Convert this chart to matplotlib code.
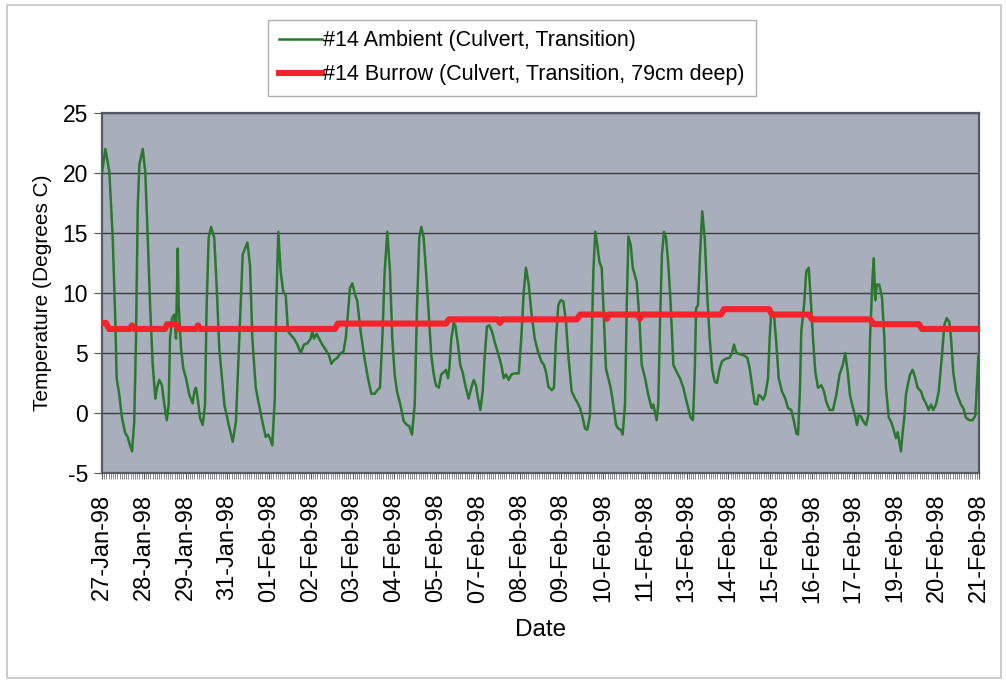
import matplotlib
matplotlib.use("Agg")
import matplotlib.pyplot as plt
from matplotlib.patches import Rectangle

plt.rcParams['font.family'] = ['Liberation Sans', 'DejaVu Sans']
plt.rcParams['axes.unicode_minus'] = False

# hours since first reading (one reading every 1.5 h, one label every 19 readings)
ambient_hours = [
    0, 2.3, 5.0, 7.3, 9.1, 10.0, 11.8, 13.6, 15.9, 17.5, 18.6, 20.5, 22.0, 23.2, 24.4,
    25.5, 27.8, 29.5, 31.2, 32.8, 34.6, 36.4, 37.5, 39.1, 40.9, 42.5, 44.2, 45.5, 46.4,
    47.8, 49.3, 50.5, 51.7, 52.3, 53.9, 55.5, 57.3, 59.6, 61.9, 63.0, 64.1, 65.3, 66.9,
    68.7, 70.3, 71.4, 72.8, 74.4, 76.6, 78.3, 80.0, 83.5, 86.5, 89.2, 91.4, 93.7, 96.0,
    99.2, 101.0, 102.6, 104.9, 107.1, 109.4, 111.7, 113.3, 114.6, 116.2, 117.9, 118.9,
    120.3, 121.9, 123.7, 125.4, 126.9, 128.8, 131.0, 133.3, 135.6, 137.8, 140.1, 142.4,
    143.5, 144.7, 146.5, 148.1, 150.3, 152.7, 154.9, 156.5, 158.3, 160.6, 162.9, 164.7,
    166.3, 167.9, 169.2, 170.8, 172.4, 174.2, 176.5, 178.8, 181.5, 183.8, 186.1, 187.9,
    189.7, 191.3, 192.9, 194.7, 196.5, 198.1, 199.7, 201.3, 203.6, 205.9, 208.1, 209.7,
    211.5, 213.4, 215.0, 216.5, 217.9, 219.5, 221.1, 222.9, 224.7, 226.4, 227.9, 229.8,
    231.5, 233.2, 234.7, 236.1, 237.0, 238.4, 240.0, 241.1, 242.9, 244.5, 246.1, 247.9,
    250.2, 252.0, 253.7, 255.2, 256.6, 258.2, 259.8, 261.2, 262.7, 264.3, 266.1, 268.0,
    270.2, 272.5, 274.1, 275.7, 277.5, 279.3, 281.6, 284.4, 286.1, 287.8, 289.3, 291.2,
    293.0, 295.3, 297.5, 299.8, 301.6, 303.0, 304.6, 306.9, 308.4, 309.8, 311.4, 313.0,
    314.8, 316.6, 318.2, 320.5, 322.8, 324.3, 326.2, 328.0, 329.6, 331.2, 333.0, 334.2,
    335.3, 336.6, 338.0, 339.4, 341.0, 342.1, 343.9, 345.5, 347.1, 348.9, 350.8, 352.3,
    354.0, 355.3, 356.9, 358.1, 359.2, 360.8, 362.2, 364.9, 366.7, 368.3, 370.6, 372.8,
    375.1, 376.2, 378.5, 379.6, 380.8, 382.1, 383.5, 384.9, 386.5, 388.1, 389.9, 392.2,
    394.4, 396.7, 399.0, 401.7, 403.3, 404.5, 405.4, 406.7, 408.1, 409.6, 411.3, 413.1,
    414.7, 416.3, 418.1, 419.7, 421.5, 423.1, 425.3, 428.3, 429.9, 431.3, 432.9, 435.2,
    438.1, 440.4, 442.0, 443.6, 445.4, 447.0, 448.1, 449.5, 451.1, 452.6, 454.5, 455.6,
    456.7, 458.6, 460.2, 461.8, 464.0, 466.3, 468.1, 470.4, 472.2, 473.8, 475.0, 476.3,
    477.2, 479.1, 480.6, 482.3, 483.6, 485.2, 486.8, 488.6, 490.9, 492.7, 494.3, 496.6,
    498.8, 501.1, 503.3, 505.5, 507.2, 508.9, 510.4, 512.3, 514.1, 515.2, 516.4, 518.0,
    519.5, 521.4, 522.9, 524.1, 525.5, 526.6, 527.7, 528.7, 530.4, 532.3, 533.9, 535.0,
    536.9, 538.4, 540.0, 541.8, 543.0, 544.1, 545.2, 546.4, 547.5, 548.6, 549.8, 551.4,
    553.2, 555.0, 556.6, 558.9, 560.5, 562.3, 564.1, 565.7, 567.3, 569.1, 571.0, 573.2,
    574.8, 576.4, 578.2, 579.4, 580.9, 582.8, 584.6, 586.2, 587.8, 589.6, 591.9, 594.2,
    596.0, 598.0,
]
ambient_temp = [
    20.0, 22.0, 20.1, 14.6, 7.6, 2.9, 1.5, -0.4, -1.7, -2.0, -2.5, -3.2, -0.7, 6.2, 17.3,
    20.7, 22.0, 20.1, 14.6, 9.0, 4.0, 1.2, 2.1, 2.75, 2.3, 0.7, -0.6, 0.7, 6.2,
    7.9, 8.2, 6.2, 13.7, 9.0, 5.4, 3.7, 2.9, 1.5, 0.8, 1.8, 2.1, 1.2, -0.4,
    -1.0, 0.7, 9.0, 14.6, 15.5, 14.6, 10.4, 5.4, 0.7, -1.0, -2.4, -0.7, 6.2, 13.2,
    14.2, 12.3, 6.2, 2.1, 0.7, -0.7, -2.0, -1.8, -2.1, -2.7, 1.2, 9.0,
    15.1, 11.8, 10.1, 9.8, 6.8, 6.5, 6.2, 5.7, 5.0, 5.7, 5.8, 6.2,
    6.8, 6.2, 6.6, 6.2, 5.7, 5.25, 4.8, 4.1, 4.4, 4.6, 5.0, 5.1,
    6.2, 8.4, 10.4, 10.8, 10.0, 9.3, 6.8, 4.8, 2.9, 1.6, 1.6, 1.9,
    2.1, 6.2, 11.8, 15.1, 11.8, 6.2, 3.2, 1.8, 0.7, -0.7, -1.0, -1.1,
    -1.8, 0.7, 9.0, 14.6, 15.5, 14.6, 11.8, 8.4, 4.8, 3.2, 2.3, 2.1,
    3.2, 3.4, 3.6, 2.9, 3.7, 6.2, 7.5, 7.3, 5.7, 4.0, 3.4, 2.3,
    1.2, 2.1, 2.75, 2.3, 1.2, 0.25, 1.8, 4.8, 7.2, 7.3, 6.8, 5.9,
    5.0, 4.0, 2.9, 3.2, 2.75, 3.2, 3.3, 3.3, 6.2, 10.1, 12.1, 10.7,
    8.4, 6.2, 5.1, 4.3, 4.0, 3.4, 2.2, 1.9, 2.1, 6.2, 9.0, 9.4,
    9.3, 7.6, 4.8, 1.8, 1.2, 0.9, 0.4, -0.4, -1.3, -1.4, -0.2, 6.2,
    11.8, 15.1, 14.0, 12.6, 12.1, 9.0, 3.7, 2.9, 2.1, 0.7, -1.0, -1.3,
    -1.4, -1.8, 0.7, 9.0, 14.7, 14.0, 12.1, 10.9, 7.9, 4.0, 2.9, 1.5,
    0.4, 0.7, -0.6, 0.7, 7.6, 13.2, 15.1, 14.6, 12.3, 9.0, 4.0, 3.4,
    2.9, 2.1, 0.9, -0.4, -0.6, 3.4, 8.7, 9.0, 13.2, 16.8, 14.6, 9.6,
    6.2, 3.7, 2.6, 2.5, 3.7, 4.3, 4.5, 4.6, 5.0, 5.7, 5.0, 4.9,
    4.8, 4.6, 3.7, 2.3, 0.8, 0.7, 1.5, 1.4, 1.1, 1.5, 2.9, 6.2,
    8.4, 8.2, 5.7, 2.9, 1.8, 1.2, 0.4, 0.25, -0.7, -1.7, -1.8, 2.1,
    6.8, 9.0, 11.8, 12.1, 9.6, 6.2, 3.4, 2.1, 2.3, 1.8, 0.9, 0.25,
    0.25, 1.5, 3.2, 4.0, 5.0, 3.4, 1.5, 0.5, -0.3, -1.0, -0.2, -0.3,
    -0.7, -1.0, -0.2, 6.2, 10.4, 12.9, 9.4, 10.7, 10.7, 9.6, 6.2, 2.1,
    -0.4, -0.7, -1.3, -2.1, -1.6, -2.4, -3.2, -1.6, -0.4, 1.5, 2.3, 3.2,
    3.6, 2.9, 2.1, 1.8, 1.2, 0.8, 0.25, 0.7, 0.25, 0.7, 1.8, 4.8,
    7.3, 7.9, 7.6, 6.2, 3.4, 1.8, 1.2, 0.7, 0.4, -0.4, -0.6, -0.6,
    -0.2, 4.7,
]

burrow_hours = [
    0, 2.7, 4.8, 19.1, 20.5, 21.8, 43.0, 44.4, 50.5, 51.9, 64.1, 65.5, 66.9, 159.0,
    161.0, 234.8, 236.8, 270.2, 271.6, 273.0, 324.1, 326.2, 343.3, 344.6, 346.0, 365.8,
    367.1, 368.5, 422.4, 424.5, 455.2, 457.2, 482.5, 484.5, 524.1, 526.8, 557.5, 559.6,
    598.5,
]
burrow_temp = [
    7.5, 7.5, 7.0, 7.0, 7.3, 7.0, 7.0, 7.4, 7.4, 7.0, 7.0, 7.3, 7.0, 7.0,
    7.45, 7.45, 7.8, 7.8, 7.5, 7.8, 7.8, 8.2, 8.2, 7.85, 8.2, 8.2,
    7.85, 8.2, 8.2, 8.65, 8.65, 8.2, 8.2, 7.8, 7.8, 7.4, 7.4, 7.0,
    7.0,
]

date_labels = [
    "27-Jan-98", "28-Jan-98", "29-Jan-98", "31-Jan-98", "01-Feb-98", "02-Feb-98",
    "03-Feb-98", "04-Feb-98", "05-Feb-98", "07-Feb-98", "08-Feb-98", "09-Feb-98",
    "10-Feb-98", "11-Feb-98", "13-Feb-98", "14-Feb-98", "15-Feb-98", "16-Feb-98",
    "17-Feb-98", "19-Feb-98", "20-Feb-98", "21-Feb-98",
]
label_step = 28.5   # hours between labelled readings
reading_step = 1.5

fig = plt.figure(figsize=(10.06, 6.82), dpi=100)
fig.patches.append(Rectangle((0.007, 0.006), 0.988, 0.987, transform=fig.transFigure,
                             fill=False, edgecolor="#c4c4c4", lw=1.2))

ax = fig.add_axes([0.1014, 0.3065, 0.8718, 0.5279])
ax.set_facecolor("#a9aebc")
for s in ax.spines.values():
    s.set_color("#555a66")
    s.set_linewidth(1.6)

l1, = ax.plot(ambient_hours, ambient_temp, color="#2a782e", lw=1.8,
              label="#14 Ambient (Culvert, Transition)", zorder=3)
l2, = ax.plot(burrow_hours, burrow_temp, color="#f2232b", lw=4.4,
              label="#14 Burrow (Culvert, Transition, 79cm deep)", zorder=4)

ax.set_xlim(0, label_step * (len(date_labels) - 1))
ax.set_ylim(-5, 25)
ax.set_yticks(range(-5, 26, 5))
ax.yaxis.grid(True, color="#3c3c44", lw=1.0)
ax.set_axisbelow(True)

ax.set_xticks([i * label_step for i in range(len(date_labels))])
ax.set_xticklabels(date_labels, rotation=90, fontsize=17)
minor = [i * reading_step for i in range(int(label_step * 21 / reading_step) + 1)]
ax.set_xticks(minor, minor=True)
ax.tick_params(axis="x", which="minor", length=4, width=0.6, color="#777777")
ax.tick_params(axis="x", which="major", length=4, width=0.8, color="#555555", pad=11)
ax.tick_params(axis="y", labelsize=16.5, length=6, color="#555555", pad=4)

ax.set_ylabel("Temperature (Degrees C)", fontsize=15, labelpad=8)
ax.set_xlabel("Date", fontsize=17.5, labelpad=12)

leg = fig.legend(handles=[l1, l2], loc="upper center", bbox_to_anchor=(0.509, 0.987),
                 fontsize=15.5, frameon=True, fancybox=False, edgecolor="#9a9a9a",
                 handlelength=2.0, handletextpad=0.05, borderpad=0.5, labelspacing=0.6)
leg.get_frame().set_linewidth(1.0)

fig.savefig("out.png", dpi=100)
